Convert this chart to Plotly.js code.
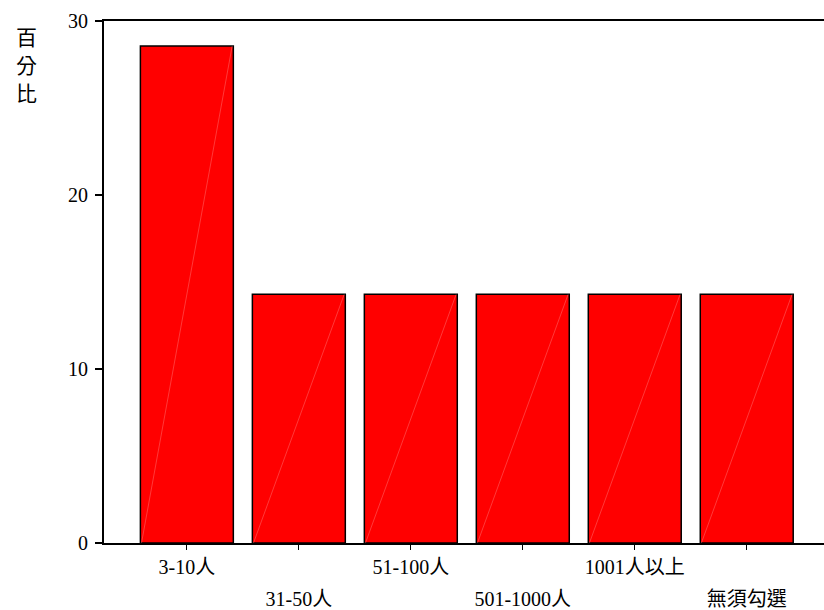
<!DOCTYPE html>
<html>
<head>
<meta charset="utf-8">
<script src="https://cdn.plot.ly/plotly-3.0.1.min.js"></script>
<style>html,body{margin:0;padding:0;background:#fff;}#chart{width:824px;height:610px;}</style>
</head>
<body>
<div id="chart"></div>
<script>
const categories = ["3-10人", "31-50人", "51-100人", "501-1000人", "1001人以上", "無須勾選"];
const percents = [28.57, 14.29, 14.29, 14.29, 14.29, 14.29];
const yTicks = [0, 10, 20, 30];
const yTitleChars = ["百", "分", "比"];

const fontFam = '"Liberation Serif", "Noto Sans CJK TC", serif';
const idx = categories.map((c, i) => i);
const barWidth = 0.83;
const xRange = [-0.74, 5.69];

const traces = [{
  type: "bar",
  x: idx,
  y: percents,
  width: barWidth,
  marker: { color: "#FF0000", line: { color: "#000000", width: 1.5 } },
  hoverinfo: "y"
}];

// faint diagonal highlight inside each bar (bottom-left to top-right)
idx.forEach((i) => {
  traces.push({
    type: "scatter", mode: "lines",
    x: [i - barWidth / 2 + 0.01, i + barWidth / 2 - 0.01],
    y: [0, percents[i]],
    line: { color: "rgba(255,190,190,0.6)", width: 0.5 },
    hoverinfo: "skip"
  });
});

// invisible trace for the second label row axis
traces.push({ type: "scatter", mode: "markers", x: [1], y: [0], xaxis: "x2", marker: { opacity: 0 }, hoverinfo: "skip" });

const oddVals = idx.filter(i => i % 2 === 1);

const layout = {
  width: 824, height: 610,
  margin: { l: 104, r: 0, t: 21, b: 67 },
  paper_bgcolor: "#fff", plot_bgcolor: "#fff",
  showlegend: false,
  font: { family: fontFam, color: "#000", size: 20 },
  xaxis: {
    range: xRange,
    tickvals: idx, ticktext: categories.map((c, i) => i % 2 === 0 ? c : ""),
    showline: true, linecolor: "#000", linewidth: 2, mirror: true,
    ticks: "outside", ticklen: 5, tickcolor: "#000", tickwidth: 1,
    showgrid: false, zeroline: false,
    tickfont: { family: fontFam, size: 20 }
  },
  xaxis2: {
    overlaying: "x", anchor: "y", side: "bottom",
    range: xRange,
    tickvals: oddVals, ticktext: oddVals.map(i => categories[i]),
    showline: false, ticks: "", showgrid: false, zeroline: false,
    ticklabelstandoff: 42,
    tickfont: { family: fontFam, size: 20 }
  },
  yaxis: {
    range: [0, 30], tickvals: yTicks,
    showline: true, linecolor: "#000", linewidth: 2,
    ticks: "outside", ticklen: 7, tickcolor: "#000", tickwidth: 1.5,
    showgrid: false, zeroline: false,
    ticklabelstandoff: 3,
    tickfont: { family: fontFam, size: 20 }
  },
  annotations: yTitleChars.map((ch, k) => ({
    xref: "paper", yref: "paper",
    x: -0.107, y: 0.9713 - k * 0.0536, xanchor: "center", yanchor: "middle",
    text: ch, showarrow: false, borderpad: 0,
    font: { family: '"Noto Sans CJK TC", sans-serif', size: 21, color: "#000" }
  }))
};

Plotly.newPlot("chart", traces, layout, { displayModeBar: false, staticPlot: true });
</script>
</body>
</html>
